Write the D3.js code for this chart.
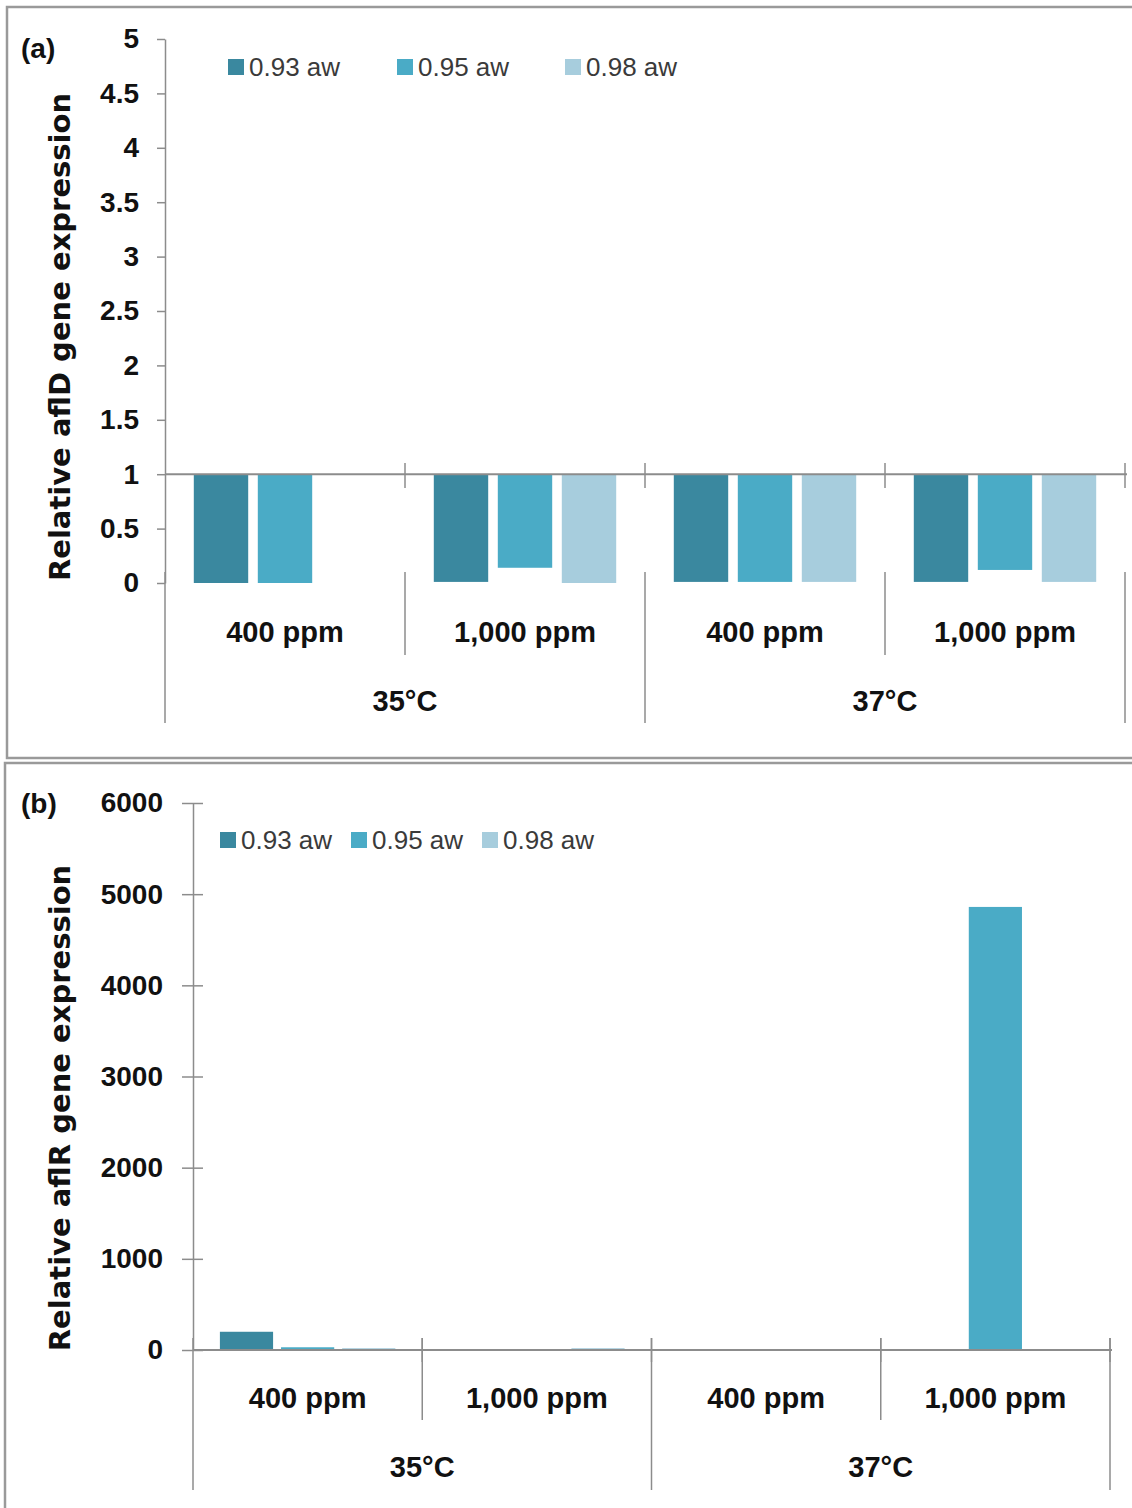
<!DOCTYPE html>
<html>
<head>
<meta charset="utf-8">
<script src="https://cdn.jsdelivr.net/npm/d3@7"></script>
<style>
  html, body { margin: 0; padding: 0; background: #ffffff; }
  svg { display: block; }
</style>
</head>
<body>
<svg id="chart" width="1132" height="1508"></svg>
<script>
// Grouping of the bars: temperature (outer) x CO2 level (inner)
const temperatures = ["35°C", "37°C"];
const co2Levels = ["400 ppm", "1,000 ppm"];

// Water activity series
const seriesNames = ["0.93 aw", "0.95 aw", "0.98 aw"];
const seriesColors = ["#3a889f", "#4aabc6", "#a7cddd"];

// Relative aflD expression, one row per (temperature, CO2) group, one value per series
const afldValues = [
  [0.00, 0.00, null],
  [0.01, 0.14, 0.00],
  [0.01, 0.01, 0.01],
  [0.01, 0.12, 0.01]
];
const afldTicks = [0, 0.5, 1, 1.5, 2, 2.5, 3, 3.5, 4, 4.5, 5];
const afldTickLabels = ["0", "0.5", "1", "1.5", "2", "2.5", "3", "3.5", "4", "4.5", "5"];

// Relative aflR expression
const aflrValues = [
  [200, 30, 20],
  [null, null, 20],
  [null, null, null],
  [null, 4860, null]
];
const aflrTicks = [0, 1000, 2000, 3000, 4000, 5000, 6000];
const aflrTickLabels = ["0", "1000", "2000", "3000", "4000", "5000", "6000"];

const svg = d3.select("#chart");
const AXIS = "#8c8c8c";
const TEXT = "#111111";
const labelFont = "'Liberation Sans', Arial, sans-serif";

// Panel frames
svg.append("rect").attr("x", 7).attr("y", 7).attr("width", 1134).attr("height", 751)
  .attr("fill", "none").attr("stroke", "#9a9a9a").attr("stroke-width", 2.5);
svg.append("rect").attr("x", 5).attr("y", 763).attr("width", 1136).attr("height", 760)
  .attr("fill", "none").attr("stroke", "#9a9a9a").attr("stroke-width", 2.5);

function drawPanel(cfg) {
  const g = svg.append("g");
  const groups = [];
  temperatures.forEach(t => co2Levels.forEach(c => groups.push(t + "|" + c)));

  const y = d3.scaleLinear().domain(cfg.domain).range([cfg.bottom, cfg.top]);
  const x0 = d3.scaleBand().domain(groups).range([cfg.left, cfg.right]).padding(0);
  const x1 = d3.scaleBand().domain(seriesNames).range([0, x0.bandwidth()])
    .paddingInner(cfg.innerPad).paddingOuter(cfg.outerPad);
  const base = y(cfg.baseline);

  // Bars, hanging from / standing on the baseline
  groups.forEach((key, gi) => {
    const row = cfg.values[gi];
    g.append("g").attr("transform", `translate(${x0(key)},0)`)
      .selectAll("rect")
      .data(seriesNames.map((s, si) => ({ s, si, v: row[si] })).filter(d => d.v !== null))
      .join("rect")
      .attr("x", d => x1(d.s))
      .attr("width", x1.bandwidth())
      .attr("y", d => Math.min(y(d.v), base))
      .attr("height", d => Math.abs(y(d.v) - base))
      .attr("fill", d => seriesColors[d.si]);
  });

  // Value axis
  const yAxis = d3.axisLeft(y).tickValues(cfg.ticks)
    .tickFormat((d, i) => cfg.tickLabels[i]).tickSizeInner(cfg.tickIn).tickSizeOuter(0).tickPadding(cfg.tickPad);
  const ya = g.append("g").attr("transform", `translate(${cfg.left},0)`).call(yAxis);
  ya.select(".domain").attr("stroke", AXIS).attr("stroke-width", 1.5);
  ya.selectAll(".tick line").attr("stroke", AXIS).attr("stroke-width", 1.5)
    .attr("x2", -cfg.tickIn).attr("x1", cfg.tickCross);
  ya.selectAll(".tick text").attr("fill", TEXT)
    .style("font-family", labelFont).style("font-weight", "bold").style("font-size", cfg.tickFont + "px");

  // Category axis line at the baseline
  g.append("line").attr("x1", cfg.left).attr("x2", cfg.right + 2)
    .attr("y1", base).attr("y2", base).attr("stroke", AXIS).attr("stroke-width", 2);

  // Group boundary ticks and separators
  const bounds = groups.map(k => x0(k)).concat([cfg.right]);
  bounds.forEach((bx, i) => {
    const outer = i % 2 === 0;
    if (cfg.crossTicks && i > 0) {
      g.append("line").attr("x1", bx).attr("x2", bx)
        .attr("y1", cfg.crossTicks[0]).attr("y2", cfg.crossTicks[1])
        .attr("stroke", AXIS).attr("stroke-width", 1.5);
    }
    g.append("line").attr("x1", bx).attr("x2", bx)
      .attr("y1", cfg.sepTop).attr("y2", outer ? cfg.sepOuterEnd : cfg.sepInnerEnd)
      .attr("stroke", AXIS).attr("stroke-width", 1.5);
  });

  // CO2 labels
  groups.forEach((key) => {
    g.append("text").attr("x", x0(key) + x0.bandwidth() / 2).attr("y", cfg.co2Y)
      .attr("text-anchor", "middle").attr("fill", TEXT)
      .style("font-family", labelFont).style("font-weight", "bold").style("font-size", cfg.catFont + "px")
      .text(key.split("|")[1]);
  });
  // Temperature labels
  temperatures.forEach((t, ti) => {
    const a = x0(t + "|" + co2Levels[0]);
    const b = x0(t + "|" + co2Levels[co2Levels.length - 1]) + x0.bandwidth();
    g.append("text").attr("x", (a + b) / 2).attr("y", cfg.tempY)
      .attr("text-anchor", "middle").attr("fill", TEXT)
      .style("font-family", labelFont).style("font-weight", "bold").style("font-size", cfg.catFont + "px")
      .text(t);
  });

  // Axis title
  g.append("text")
    .attr("transform", `translate(${cfg.titleX},${cfg.titleY}) rotate(-90)`)
    .attr("text-anchor", "middle").attr("fill", TEXT)
    .style("font-family", "'DejaVu Sans', sans-serif").style("font-weight", "bold").style("font-size", "29px")
    .text(cfg.title);

  // Panel tag
  g.append("text").attr("x", 21).attr("y", cfg.tagY).attr("fill", TEXT)
    .style("font-family", labelFont).style("font-weight", "bold").style("font-size", "28px")
    .text(cfg.tag);

  // Legend
  const lg = g.append("g");
  seriesNames.forEach((s, i) => {
    const lx = cfg.legendX[i];
    lg.append("rect").attr("x", lx).attr("y", cfg.legendY - 8).attr("width", 16).attr("height", 16)
      .attr("fill", seriesColors[i]);
    lg.append("text").attr("x", lx + 21).attr("y", cfg.legendY + 9).attr("fill", "#3a3a3a")
      .style("font-family", labelFont).style("font-size", "26px").text(s);
  });
}

drawPanel({
  values: afldValues, domain: [0, 5], ticks: afldTicks, tickLabels: afldTickLabels,
  top: 39, bottom: 583, left: 165, right: 1125, baseline: 1,
  innerPad: 0.15, outerPad: 0.45,
  tickIn: 8, tickCross: 0, tickPad: 18, tickFont: 28,
  crossTicks: [463, 488],
  sepTop: 572, sepInnerEnd: 655, sepOuterEnd: 723,
  co2Y: 642, tempY: 711, catFont: 29,
  title: "Relative aflD gene expression", titleX: 70, titleY: 337,
  tag: "(a)", tagY: 58,
  legendX: [228, 397, 565], legendY: 67
});

drawPanel({
  values: aflrValues, domain: [0, 6000], ticks: aflrTicks, tickLabels: aflrTickLabels,
  top: 803, bottom: 1350, left: 193, right: 1110, baseline: 0,
  innerPad: 0.13, outerPad: 0.44,
  tickIn: 11, tickCross: 10, tickPad: 19, tickFont: 28,
  crossTicks: [1338, 1362],
  sepTop: 1338, sepInnerEnd: 1420, sepOuterEnd: 1490,
  co2Y: 1408, tempY: 1477, catFont: 29,
  title: "Relative aflR gene expression", titleX: 70, titleY: 1108,
  tag: "(b)", tagY: 813,
  legendX: [220, 351, 482], legendY: 840
});
</script>
</body>
</html>
